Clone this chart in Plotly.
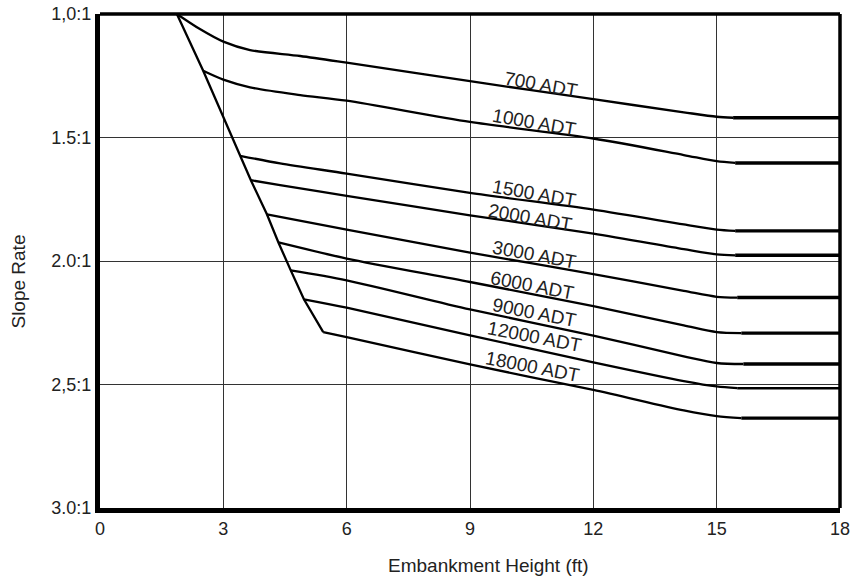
import plotly.graph_objects as go

# ---- data ----
series_names = ["700 ADT", "1000 ADT", "1500 ADT", "2000 ADT", "3000 ADT",
                "6000 ADT", "9000 ADT", "12000 ADT", "18000 ADT"]

h_700 = [1.87, 2.43, 3.0, 3.65, 4.87, 6.0, 9.0, 12.0, 14.2, 15.0, 15.4]
s_700 = [1.0, 1.061, 1.112, 1.146, 1.17, 1.197, 1.272, 1.345, 1.398, 1.416, 1.42]

h_1000 = [2.51, 3.0, 3.65, 4.87, 6.0, 9.0, 12.0, 14.2, 15.0, 15.45]
s_1000 = [1.23, 1.266, 1.297, 1.328, 1.351, 1.437, 1.504, 1.571, 1.596, 1.603]

h_1500 = [3.41, 4.38, 6.0, 9.0, 12.0, 14.2, 15.0, 15.45]
s_1500 = [1.574, 1.605, 1.646, 1.724, 1.792, 1.852, 1.873, 1.878]

h_2000 = [3.67, 4.38, 6.0, 9.0, 12.0, 14.2, 15.0, 15.45]
s_2000 = [1.673, 1.693, 1.736, 1.815, 1.889, 1.952, 1.973, 1.977]

h_3000 = [4.06, 6.0, 9.0, 12.0, 14.2, 15.0, 15.5]
s_3000 = [1.811, 1.873, 1.966, 2.053, 2.121, 2.145, 2.148]

h_6000 = [4.34, 6.0, 9.0, 12.0, 14.2, 15.0, 15.6]
s_6000 = [1.925, 1.99, 2.085, 2.183, 2.261, 2.288, 2.292]

h_9000 = [4.64, 6.0, 9.0, 12.0, 14.2, 15.0, 15.65]
s_9000 = [2.038, 2.078, 2.196, 2.302, 2.386, 2.413, 2.417]

h_12000 = [4.96, 6.0, 9.0, 12.0, 14.2, 15.0, 15.5]
s_12000 = [2.155, 2.189, 2.301, 2.41, 2.486, 2.508, 2.515]

h_18000 = [5.43, 6.0, 9.0, 12.0, 14.2, 15.0, 15.6]
s_18000 = [2.288, 2.308, 2.419, 2.522, 2.605, 2.628, 2.636]

flat_end = 18.0

env_h = [1.87, 2.51, 3.41, 3.67, 4.06, 4.34, 4.64, 4.96, 5.43]
env_s = [1.0, 1.23, 1.574, 1.673, 1.811, 1.925, 2.038, 2.155, 2.288]

x_ticks = [0, 3, 6, 9, 12, 15, 18]
y_ticks = [1.0, 1.5, 2.0, 2.5, 3.0]
y_tick_labels = ["1,0:1", "1.5:1", "2.0:1", "2,5:1", "3.0:1"]

label_h = [10.73, 10.58, 10.58, 10.46, 10.56, 10.53, 10.56, 10.56, 10.51]
label_s = [1.285, 1.44, 1.726, 1.822, 1.973, 2.099, 2.21, 2.305, 2.427]
label_angle = [10, 10, 10, 10, 10.5, 11, 11, 11, 11]

curves_h = [h_700, h_1000, h_1500, h_2000, h_3000, h_6000, h_9000, h_12000, h_18000]
curves_s = [s_700, s_1000, s_1500, s_2000, s_3000, s_6000, s_9000, s_12000, s_18000]

FONT = "Arial, Liberation Sans, sans-serif"
TXT = "#222222"

fig = go.Figure()

# envelope line
fig.add_trace(go.Scatter(x=env_h, y=env_s, mode="lines",
                         line=dict(color="black", width=2.3), showlegend=False,
                         hoverinfo="skip"))

for name, hs, ss in zip(series_names, curves_h, curves_s):
    fig.add_trace(go.Scatter(x=hs, y=ss, mode="lines", name=name,
                             line=dict(color="black", width=2.3, shape="spline",
                                       smoothing=0.8),
                             showlegend=False))
    fig.add_trace(go.Scatter(x=[hs[-1], flat_end], y=[ss[-1], ss[-1]], mode="lines",
                             line=dict(color="black",
                                       width=2.5 if name == "12000 ADT" else 3.4),
                             showlegend=False, hoverinfo="skip"))

for name, lx, ly, ang in zip(series_names, label_h, label_s, label_angle):
    fig.add_annotation(x=lx, y=ly, text=name, showarrow=False, textangle=ang,
                       xanchor="center", yanchor="middle",
                       font=dict(family=FONT, size=19, color=TXT))

# axis titles
fig.add_annotation(xref="paper", yref="paper", x=0.525, y=0, yshift=-57,
                   text="Embankment Height (ft)", showarrow=False,
                   xanchor="center", yanchor="middle",
                   font=dict(family=FONT, size=19, color=TXT))
fig.add_annotation(xref="paper", yref="paper", x=-0.11, y=0.4576,
                   text="Slope Rate", showarrow=False, textangle=-90,
                   xanchor="center", yanchor="middle",
                   font=dict(family=FONT, size=19, color=TXT))

# top and right frame lines
fig.add_shape(type="line", xref="paper", yref="paper", x0=0, x1=1, y0=1, y1=1,
              line=dict(color="black", width=3.5))
fig.add_shape(type="line", xref="paper", yref="paper", x0=1, x1=1, y0=0, y1=1,
              line=dict(color="black", width=3.5))

fig.update_layout(
    width=851, height=579,
    margin=dict(l=100, r=11, t=14, b=71, autoexpand=False),
    paper_bgcolor="white", plot_bgcolor="white",
    font=dict(family=FONT, size=18, color=TXT),
    xaxis=dict(range=[0, 18], tickvals=x_ticks, ticktext=[str(v) for v in x_ticks],
               showgrid=True, gridcolor="#333333", gridwidth=1.3,
               showline=True, linecolor="black", linewidth=5, zeroline=False,
               ticks="", fixedrange=True, automargin=False),
    yaxis=dict(range=[3.0, 1.0], tickvals=y_ticks, ticktext=y_tick_labels,
               showgrid=True, gridcolor="#333333", gridwidth=1.3,
               showline=True, linecolor="black", linewidth=5, zeroline=False,
               ticks="", fixedrange=True, automargin=False),
)

fig.write_html("out.html", config={"displayModeBar": False},
               post_script="document.body.style.margin='0px';document.body.style.overflow='hidden';")
